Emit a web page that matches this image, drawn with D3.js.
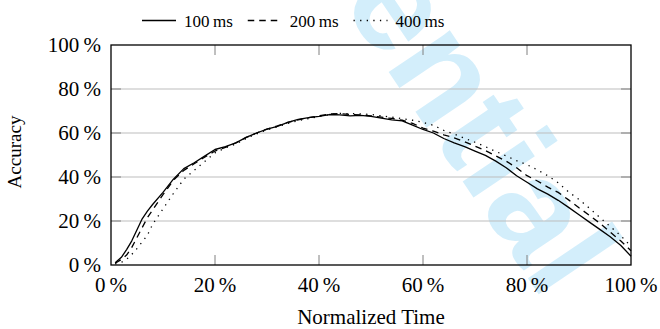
<!DOCTYPE html>
<html>
<head>
<meta charset="utf-8">
<script src="https://cdn.jsdelivr.net/npm/d3@7"></script>
<style>
  body { margin: 0; background: #fff; }
  svg { display: block; }
</style>
</head>
<body>
<svg id="chart" width="660" height="329"></svg>
<script>
// normalized time (%)
const time = [0.8, 2, 3, 4, 5, 6, 7, 8, 10, 12, 14, 16, 18, 20, 22, 24, 26, 28, 30, 32, 34, 36, 38, 40,
  42, 44, 46, 48, 50, 52, 54, 56, 58, 60, 62, 64, 66, 68, 70, 72, 74, 76, 78, 80, 82, 84, 86, 88, 90,
  92, 94, 96, 98, 100];

// accuracy (%)
const acc100 = [1.0, 3.5, 7, 11, 16, 21, 24.5, 27.5, 33, 39, 43.8, 46.5, 49.5, 52.5, 53.8, 55.5, 58, 60,
  61.8, 63, 64.8, 66.2, 67, 67.6, 68.4, 68.2, 67.8, 68, 67.6, 66.8, 66, 65.5, 63.6, 61.6, 60, 57.5, 55.5,
  53.8, 51.8, 49.8, 47.2, 44.2, 40.6, 37.6, 34.6, 32.2, 29.4, 26.2, 22.8, 19.5, 16.2, 12.8, 9, 4];
const acc200 = [0.8, 2.5, 4.5, 8, 12.5, 17, 21.5, 25, 32, 38.5, 43, 46, 49, 51.8, 53.5, 55.5, 58, 60,
  61.8, 63.2, 64.8, 66, 67, 67.8, 68.6, 68.8, 68.4, 68.2, 67.8, 67.2, 66.6, 65.8, 64.4, 62.2, 60.8, 59.2,
  57.8, 56, 54, 52, 49.6, 47.2, 44.2, 40.6, 38.2, 35.4, 33, 29.6, 26, 22.6, 19, 15, 11, 6.5];
const acc400 = [0.5, 1.2, 2.6, 4.8, 7.5, 10.5, 13.5, 18.5, 25.5, 32.5, 39, 43, 47, 51, 53.2, 55, 57.5, 59.6,
  61.4, 62.8, 64.3, 65.6, 66.6, 67.4, 68.4, 68.9, 68.8, 68.7, 68.4, 67.8, 67.2, 66.5, 65.8, 64.8, 63.5,
  61.2, 59.5, 57.6, 55.8, 53.8, 51.6, 49.6, 47.4, 45.6, 43.2, 40.6, 37.4, 33.2, 29.8, 25.8, 21.6, 17.5,
  13.4, 8.5];

const seriesNames = ["100\u2009ms", "200\u2009ms", "400\u2009ms"];
const seriesDash = [null, "6.5,5", "1.3,5.3"];
const xTicks = [0, 20, 40, 60, 80, 100];
const yTicks = [0, 20, 40, 60, 80, 100];

const serif = "'Liberation Serif', 'Times New Roman', Times, serif";
const svg = d3.select("#chart");
const pLeft = 111, pRight = 631, pTop = 45, pBottom = 265;

const x = d3.scaleLinear().domain([0, 100]).range([pLeft, pRight]);
const y = d3.scaleLinear().domain([0, 100]).range([pBottom, pTop]);

// watermark
svg.append("text")
  .attr("transform", "translate(92,-368) rotate(56)")
  .attr("font-family", "'Liberation Sans', Arial, sans-serif")
  .attr("font-weight", "bold")
  .attr("font-size", 140)
  .attr("fill", "#d3eefb")
  .text("Confidential");

// grid
svg.append("g").selectAll("line")
  .data(yTicks.filter(d => d > 0 && d < 100))
  .join("line")
  .attr("x1", pLeft).attr("x2", pRight)
  .attr("y1", d => y(d)).attr("y2", d => y(d))
  .attr("stroke", "#bdbdbd").attr("stroke-width", 1);

// inner ticks
const tlen = 10;
const tickG = svg.append("g").attr("stroke", "#808080").attr("stroke-width", 1);
xTicks.filter(d => d > 0 && d < 100).forEach(d => {
  tickG.append("line").attr("x1", x(d)).attr("x2", x(d)).attr("y1", pBottom).attr("y2", pBottom - tlen);
  tickG.append("line").attr("x1", x(d)).attr("x2", x(d)).attr("y1", pTop).attr("y2", pTop + tlen);
});
yTicks.filter(d => d > 0 && d < 100).forEach(d => {
  tickG.append("line").attr("x1", pLeft).attr("x2", pLeft + tlen).attr("y1", y(d)).attr("y2", y(d));
  tickG.append("line").attr("x1", pRight).attr("x2", pRight - tlen).attr("y1", y(d)).attr("y2", y(d));
});

// series
const line = d3.line().x((d, i) => x(time[i])).y(d => y(d));
[acc100, acc200, acc400].forEach((s, k) => {
  svg.append("path")
    .datum(s)
    .attr("d", line)
    .attr("fill", "none")
    .attr("stroke", "#000")
    .attr("stroke-width", 1.3)
    .attr("stroke-linejoin", "round")
    .attr("stroke-dasharray", seriesDash[k]);
});

// frame
svg.append("rect")
  .attr("x", pLeft).attr("y", pTop)
  .attr("width", pRight - pLeft).attr("height", pBottom - pTop)
  .attr("fill", "none").attr("stroke", "#000").attr("stroke-width", 1.3);

// tick labels
svg.append("g").selectAll("text")
  .data(yTicks)
  .join("text")
  .attr("x", pLeft - 10)
  .attr("y", d => y(d) + 7)
  .attr("text-anchor", "end")
  .attr("font-family", serif)
  .attr("font-size", 21)
  .text(d => d + "\u2009%");

svg.append("g").selectAll("text")
  .data(xTicks)
  .join("text")
  .attr("x", d => x(d))
  .attr("y", pBottom + 27)
  .attr("text-anchor", "middle")
  .attr("font-family", serif)
  .attr("font-size", 21)
  .text(d => d + "\u2009%");

// axis labels
svg.append("text")
  .attr("x", (pLeft + pRight) / 2)
  .attr("y", 324)
  .attr("text-anchor", "middle")
  .attr("font-family", serif)
  .attr("font-size", 21)
  .text("Normalized Time");

svg.append("text")
  .attr("transform", "translate(21,152) rotate(-90)")
  .attr("text-anchor", "middle")
  .attr("font-family", serif)
  .attr("font-size", 19)
  .text("Accuracy");

// legend
const leg = svg.append("g");
let lx = 142;
seriesNames.forEach((name, k) => {
  leg.append("line")
    .attr("x1", lx).attr("x2", lx + 34)
    .attr("y1", 20.5).attr("y2", 20.5)
    .attr("stroke", "#000").attr("stroke-width", 1.3)
    .attr("stroke-dasharray", seriesDash[k]);
  const t = leg.append("text")
    .attr("x", lx + 42)
    .attr("y", 26.5)
    .attr("font-family", serif)
    .attr("font-size", 17)
    .text(name);
  lx += 42 + t.node().getComputedTextLength() + 15;
});
</script>
</body>
</html>
